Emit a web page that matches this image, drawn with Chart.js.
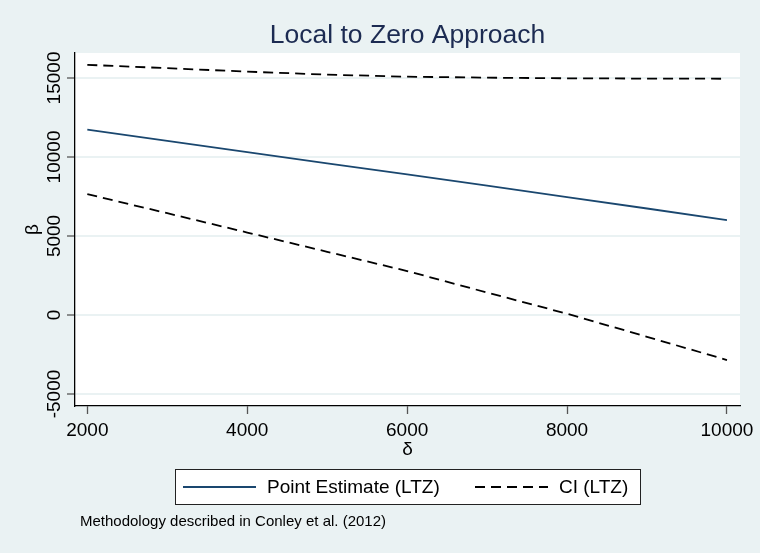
<!DOCTYPE html>
<html lang="en">
<head>
  <meta charset="UTF-8">
  <title>Local to Zero Approach</title>
  <script src="https://cdn.jsdelivr.net/npm/chart.js"></script>
  <style>
    html, body { margin: 0; padding: 0; background: #eaf2f3; }
    #wrap { width: 760px; height: 553px; }
  </style>
</head>
<body>
  <div id="wrap"><canvas id="ltzChart" width="760" height="553"></canvas></div>

  <script>
    // values
    const deltaValues = [2000, 3000, 4000, 5000, 6000, 7000, 8000, 9000, 10000];
    const pointEstimate = [11730, 11020, 10310, 9600, 8900, 8180, 7460, 6740, 6010];
    const ciUpper = [15830, 15620, 15400, 15210, 15080, 15020, 14980, 14960, 14950];
    const ciLower = [7650, 6440, 5220, 4000, 2780, 1420, 80, -1380, -2850];
    const xTicks = [2000, 4000, 6000, 8000, 10000];
    const yTicks = [-5000, 0, 5000, 10000, 15000];

    const bg = '#eaf2f3';
    const navy = '#1a476f';
    const font = 'Liberation Sans, Arial, sans-serif';
    const chartTitle = 'Local to Zero Approach';
    const note = 'Methodology described in Conley et al. (2012)';

    const toPoints = ys => deltaValues.map((x, i) => ({ x: x, y: ys[i] }));

    // white plot region on the light background, title over the plot, legend box and note
    const stataFrame = {
      id: 'stataFrame',
      beforeDraw(chart) {
        const { ctx, chartArea: a } = chart;
        ctx.save();
        ctx.fillStyle = bg;
        ctx.fillRect(0, 0, chart.width, chart.height);
        ctx.fillStyle = '#ffffff';
        ctx.fillRect(a.left, a.top, a.right - a.left, a.bottom - a.top);
        ctx.restore();
      },
      afterDraw(chart) {
        const { ctx, chartArea: a } = chart;
        const ds = chart.data.datasets;
        ctx.save();
        // title, centred on the plot region
        ctx.fillStyle = '#1c2b52';
        ctx.font = '26.5px ' + font;
        ctx.textAlign = 'center';
        ctx.textBaseline = 'middle';
        ctx.fillText(chartTitle, (a.left + a.right) / 2, 36);

        // legend
        ctx.fillStyle = '#ffffff';
        ctx.fillRect(175, 469, 465, 35);
        ctx.strokeStyle = '#222';
        ctx.lineWidth = 1;
        ctx.strokeRect(175.5, 469.5, 465, 35);

        ctx.lineWidth = 1.8;
        ctx.strokeStyle = ds[0].borderColor;
        ctx.setLineDash([]);
        ctx.beginPath(); ctx.moveTo(183, 487); ctx.lineTo(256, 487); ctx.stroke();

        ctx.strokeStyle = ds[1].borderColor;
        ctx.setLineDash(ds[1].borderDash);
        ctx.beginPath(); ctx.moveTo(475, 487); ctx.lineTo(548, 487); ctx.stroke();
        ctx.setLineDash([]);

        ctx.fillStyle = '#000';
        ctx.font = '19px ' + font;
        ctx.textAlign = 'left';
        ctx.fillText(ds[0].label, 267, 488);
        ctx.fillText(ds[1].label, 559, 488);

        // note
        ctx.font = '15px ' + font;
        ctx.fillText(note, 80, 522);
        ctx.restore();
      }
    };

    const ctx = document.getElementById('ltzChart').getContext('2d');
    new Chart(ctx, {
      type: 'line',
      data: {
        datasets: [
          {
            label: 'Point Estimate (LTZ)',
            data: toPoints(pointEstimate),
            borderColor: navy,
            borderWidth: 1.8,
            pointRadius: 0,
            tension: 0
          },
          {
            label: 'CI (LTZ)',
            data: toPoints(ciUpper),
            borderColor: '#000',
            borderWidth: 1.8,
            borderDash: [10, 6],
            pointRadius: 0,
            tension: 0
          },
          {
            label: 'CI (LTZ) lower',
            data: toPoints(ciLower),
            borderColor: '#000',
            borderWidth: 1.8,
            borderDash: [10, 6],
            pointRadius: 0,
            tension: 0
          }
        ]
      },
      options: {
        responsive: false,
        animation: false,
        layout: { padding: { left: 0, right: 20, top: 53, bottom: 87 } },
        plugins: {
          legend: { display: false },
          tooltip: { enabled: false },
          title: { display: false }
        },
        scales: {
          x: {
            type: 'linear',
            min: 1846,
            max: 10163,
            afterBuildTicks: s => { s.ticks = xTicks.map(v => ({ value: v })); },
            afterFit: s => { s.height = 60; },
            grid: { drawOnChartArea: false, tickLength: 8, tickColor: '#555', tickWidth: 1.3 },
            border: { color: '#000', width: 1.3 },
            ticks: {
              color: '#000',
              font: { family: font, size: 19 },
              padding: 5,
              maxRotation: 0,
              callback: v => String(v)
            },
            title: {
              display: true,
              text: 'δ',
              color: '#000',
              font: { family: font, size: 19 },
              padding: { top: 0, bottom: 5 }
            }
          },
          y: {
            min: -5760,
            max: 16580,
            afterBuildTicks: s => { s.ticks = yTicks.map(v => ({ value: v })); },
            afterFit: s => { s.width = 75; },
            grid: { color: bg, lineWidth: 2, tickLength: 8, tickColor: '#555', tickWidth: 1.3 },
            border: { color: '#000', width: 1.3 },
            ticks: {
              color: '#000',
              font: { family: font, size: 19 },
              minRotation: 90,
              maxRotation: 90,
              crossAlign: 'center',
              padding: -14,
              callback: v => String(v)
            },
            title: {
              display: true,
              text: 'β',
              color: '#000',
              font: { family: font, size: 19 },
              padding: { top: 21.6, bottom: 0 }
            }
          }
        }
      },
      plugins: [stataFrame]
    });
  </script>
</body>
</html>
